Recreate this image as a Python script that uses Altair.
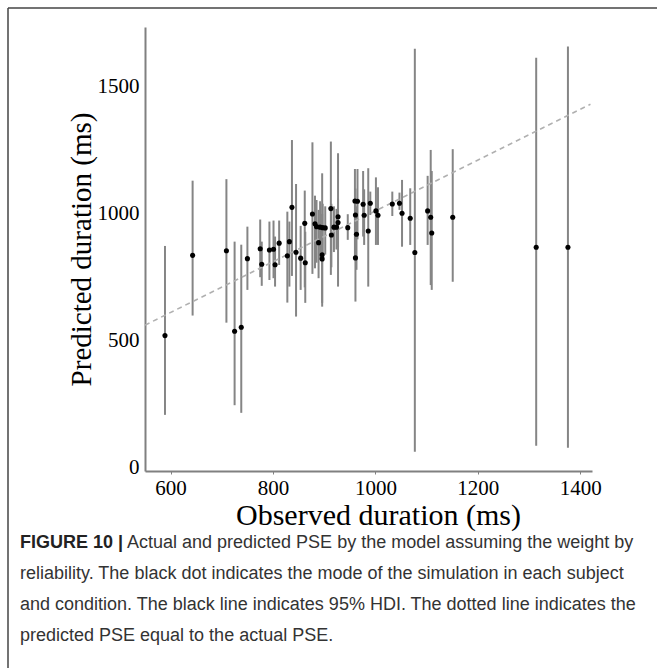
import altair as alt
import pandas as pd

# observed duration (x), predicted mode (y), 95% HDI low / high
obs = [589, 643, 709, 725, 738, 750, 775, 778, 793, 801, 804, 812, 828, 832, 837, 845,
       854, 862, 863, 877, 882, 885, 889, 892, 896, 896, 897, 902, 913, 914, 919, 924,
       927, 927, 946, 960, 965, 961, 963, 961, 976, 978, 986, 990, 1001, 1005, 1033,
       1047, 1052, 1068, 1077, 1102, 1108, 1110, 1151, 1314, 1376]
pred = [521, 837, 855, 538, 554, 824, 863, 802, 858, 861, 800, 885, 835, 891, 1026, 849,
        826, 963, 808, 1000, 961, 950, 887, 948, 839, 823, 946, 945, 1021, 917, 948, 948,
        989, 966, 946, 1051, 1050, 996, 920, 827, 1038, 995, 933, 1042, 1012, 995, 1039,
        1042, 1003, 983, 848, 1012, 987, 925, 987, 869, 869]
hdi_lo = [209, 600, 572, 247, 217, 701, 751, 717, 740, 747, 714, 799, 651, 714, 756, 596,
          701, 711, 650, 764, 786, 808, 747, 820, 635, 650, 830, 840, 760, 790, 850, 860,
          714, 870, 898, 826, 900, 880, 780, 655, 911, 878, 714, 996, 878, 878, 992,
          1016, 871, 878, 64, 878, 720, 701, 733, 87, 80]
hdi_hi = [874, 1131, 1137, 891, 879, 950, 978, 891, 970, 974, 911, 974, 1009, 970, 1291, 1118,
          953, 1092, 930, 1282, 1072, 1055, 1016, 1050, 1160, 1000, 1040, 1030, 1285, 1040, 1030, 1020,
          1239, 1060, 999, 1177, 1177, 1100, 1030, 950, 1169, 1097, 1180, 1088, 1144, 1105, 1088,
          1084, 1134, 1101, 1650, 1150, 1252, 1169, 1255, 1615, 1659]

line_x = [550, 1420]
line_y = [562, 1432]

x_ticks = [600, 800, 1000, 1200, 1400]
y_ticks = [0, 500, 1000, 1500]

x_title = "Observed duration (ms)"
y_title = "Predicted duration (ms)"

caption_bold = "FIGURE 10 |"
caption_lines = [
    "Actual and predicted PSE by the model assuming the weight by",
    "reliability. The black dot indicates the mode of the simulation in each subject",
    "and condition. The black line indicates 95% HDI. The dotted line indicates the",
    "predicted PSE equal to the actual PSE.",
]

df = pd.DataFrame({"obs": obs, "pred": pred, "lo": hdi_lo, "hi": hdi_hi})
line_df = pd.DataFrame({"obs": line_x, "pred": line_y})

xscale = alt.Scale(domain=[550, 1423], nice=False, zero=False)
yscale = alt.Scale(domain=[-12, 1736], nice=False, zero=False)

SERIF = "Liberation Serif"

xaxis = alt.Axis(values=x_ticks, format="d", title=x_title, grid=False, domainColor="#808080",
                 domainWidth=2, tickColor="#808080", tickSize=3, labelFont=SERIF,
                 labelFontSize=21, labelColor="black", labelPadding=3,
                 titleFont=SERIF, titleFontSize=30, titleFontWeight="normal",
                 titleColor="black", titlePadding=2, titleX=233)
yaxis = alt.Axis(values=y_ticks, format="d", title=y_title, grid=False, domainColor="#808080",
                 domainWidth=2, ticks=False, labelFont=SERIF, labelFontSize=21,
                 labelColor="black", labelPadding=6, titleFont=SERIF, titleFontSize=29,
                 titleFontWeight="normal", titleColor="black", titlePadding=1, titleY=222)

bars = alt.Chart(df).mark_rule(color="#858585", strokeWidth=2).encode(
    x=alt.X("obs:Q", scale=xscale, axis=xaxis),
    y=alt.Y("lo:Q", scale=yscale, axis=yaxis),
    y2="hi:Q",
)
dots = alt.Chart(df).mark_circle(color="black", size=26, opacity=1).encode(
    x=alt.X("obs:Q", scale=xscale),
    y=alt.Y("pred:Q", scale=yscale),
)
diag = alt.Chart(line_df).mark_line(color="#b0b0b0", strokeWidth=1.5,
                                    strokeDash=[5, 4]).encode(
    x=alt.X("obs:Q", scale=xscale),
    y=alt.Y("pred:Q", scale=yscale),
)

# figure frame (left and top edges)
frame_left = alt.Chart(pd.DataFrame({"a": [0]})).mark_rule(
    color="#444444", strokeWidth=1.5).encode(
    x=alt.value(-137), y=alt.value(-19), y2=alt.value(700))
frame_top = alt.Chart(pd.DataFrame({"a": [0]})).mark_rule(
    color="#444444", strokeWidth=1.5).encode(
    x=alt.value(-137), x2=alt.value(600), y=alt.value(-19))

cap_df = pd.DataFrame({"t": caption_lines, "i": list(range(len(caption_lines)))})
cap_df["x"] = [-18, -125, -125, -125]
cap_df["yy"] = [516 + 31 * i for i in range(len(caption_lines))]

CAPFONT = "Liberation Sans"
caption = alt.Chart(cap_df).mark_text(
    align="left", baseline="middle", font=CAPFONT, fontSize=18, color="#333333").encode(
    x=alt.X("x:Q", scale=None), y=alt.Y("yy:Q", scale=None), text="t:N")
caption_b = alt.Chart(pd.DataFrame({"t": [caption_bold]})).mark_text(
    align="left", baseline="middle", font=CAPFONT, fontSize=18, fontWeight="bold",
    color="#222222").encode(
    x=alt.value(-125), y=alt.value(516), text="t:N")

chart = alt.layer(bars, diag, dots, frame_left, frame_top, caption, caption_b).properties(
    width=447, height=444,
    padding={"left": 145, "top": 27, "right": 65, "bottom": 197},
    autosize=alt.AutoSizeParams(type="none"),
    background="white",
).configure_view(stroke=None)

chart.save("out.html", embed_options={"renderer": "svg", "actions": False})
